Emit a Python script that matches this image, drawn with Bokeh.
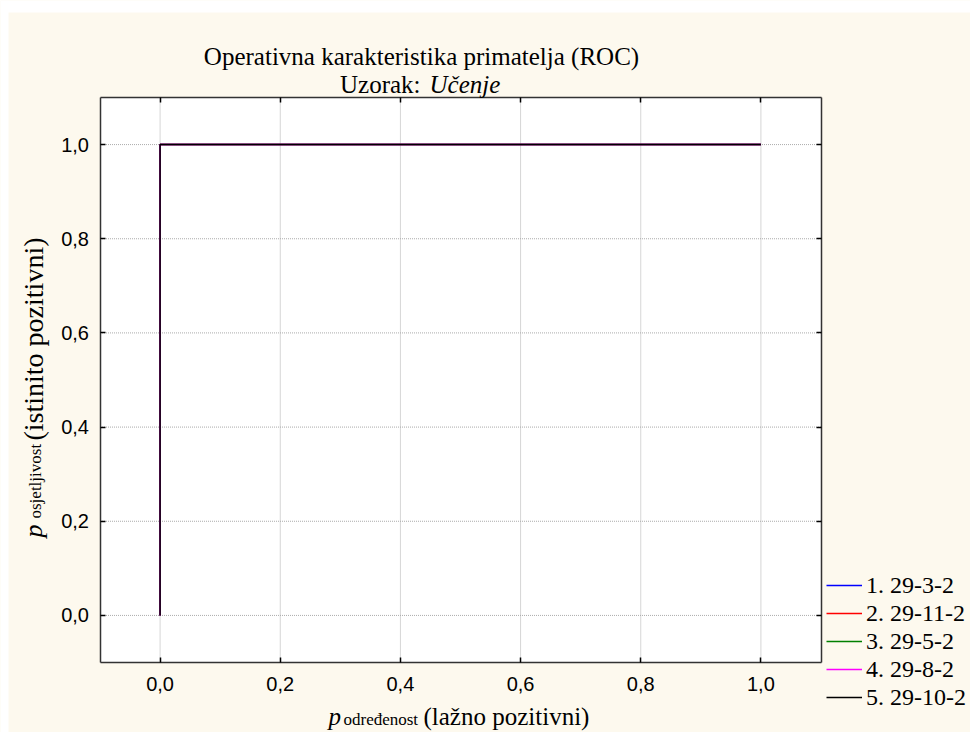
import math
from bokeh.plotting import figure
from bokeh.models import Label, Legend, LegendItem, LinearAxis, FixedTicker, Range1d
from bokeh.embed import file_html
from bokeh.resources import INLINE

# ---- data ----
series_names = ["1. 29-3-2", "2. 29-11-2", "3. 29-5-2", "4. 29-8-2", "5. 29-10-2"]
series_colors = ["#0000FF", "#FF0000", "#008000", "#FF00FF", "#000000"]

fpr_1 = [0.0, 0.0, 1.0]
tpr_1 = [0.0, 1.0, 1.0]
fpr_2 = [0.0, 0.0, 1.0]
tpr_2 = [0.0, 1.0, 1.0]
fpr_3 = [0.0, 0.0, 1.0]
tpr_3 = [0.0, 1.0, 1.0]
fpr_4 = [0.0, 0.0, 1.0]
tpr_4 = [0.0, 1.0, 1.0]
fpr_5 = [0.0, 0.0, 1.0]
tpr_5 = [0.0, 1.0, 1.0]

axis_min, axis_max = -0.1, 1.1
tick_values = [0.0, 0.2, 0.4, 0.6, 0.8, 1.0]
tick_labels = ["0,0", "0,2", "0,4", "0,6", "0,8", "1,0"]

title_line1 = "Operativna karakteristika primatelja (ROC)"
title_line2_a = "Uzorak:"
title_line2_b = "Učenje"
x_label_p, x_label_sub, x_label_rest = "p", "određenost", "(lažno pozitivni)"
y_label_p, y_label_sub, y_label_rest = "p", "osjetljivost", "(istinito pozitivni)"

# ---- layout (pixels) ----
CREAM = "#FDF9EE"
SERIF = "Liberation Serif"
SANS = "Liberation Sans"
W, H = 970, 732
BOX_L, BOX_R, BOX_T, BOX_B = 99.5, 820.5, 97.0, 662.0   # plot box inside the canvas

span = axis_max - axis_min
kx = (BOX_R - BOX_L) / span
ky = (BOX_B - BOX_T) / span
x_start = axis_min - BOX_L / kx
x_end = axis_max + (W - BOX_R) / kx
y_end = axis_max + BOX_T / ky
y_start = axis_min - (H - BOX_B) / ky

p = figure(width=W, height=H, output_backend="svg", toolbar_location=None,
           x_range=Range1d(x_start, x_end), y_range=Range1d(y_start, y_end),
           min_border=0, min_border_left=0, min_border_right=0,
           min_border_top=0, min_border_bottom=0)
p.title.visible = False
p.border_fill_color = CREAM
p.background_fill_color = CREAM
p.outline_line_color = None
p.xgrid.visible = False
p.ygrid.visible = False

# white margins of the reference picture (top and left)
p.quad(left=[x_start], right=[x_end], bottom=[y_end - 12 / ky], top=[y_end],
       fill_color="white", line_color=None)
p.quad(left=[x_start], right=[x_start + 8 / kx], bottom=[y_start], top=[y_end],
       fill_color="white", line_color=None)

# white plot box
p.quad(left=[axis_min], right=[axis_max], bottom=[axis_min], top=[axis_max],
       fill_color="white", line_color=None)

# dotted grid at the tick values, inside the box
n = len(tick_values)
p.segment(x0=tick_values, x1=tick_values, y0=[axis_min] * n, y1=[axis_max] * n,
          line_color="#ABABAB", line_dash="1 1", line_width=1)
p.segment(x0=[axis_min] * n, x1=[axis_max] * n, y0=tick_values, y1=tick_values,
          line_color="#ABABAB", line_dash="1 1", line_width=1)

ticker = FixedTicker(ticks=tick_values)
overrides = {v: s for v, s in zip(tick_values, tick_labels)}

def style_axis(ax, labels=True):
    ax.ticker = ticker
    ax.bounds = (axis_min, axis_max)
    ax.major_tick_in = 5
    ax.major_tick_out = 0
    ax.minor_tick_line_color = None
    ax.axis_line_color = "#333333"
    ax.axis_line_width = 1.5
    ax.major_tick_line_color = "black"
    ax.major_tick_line_width = 1.5
    if labels:
        ax.major_label_overrides = overrides
        ax.major_label_text_font = SANS
        ax.major_label_text_font_size = "20px"
        ax.major_label_text_color = "black"
    else:
        ax.major_label_text_color = None
        ax.major_label_text_font_size = "1px"

xb = p.xaxis[0]
yl = p.yaxis[0]
style_axis(xb)
style_axis(yl)
xb.fixed_location = axis_min
yl.fixed_location = axis_min
xb.major_label_standoff = 14
yl.major_label_standoff = 11

xt = LinearAxis(fixed_location=axis_max)
yr = LinearAxis(fixed_location=axis_max)
style_axis(xt, labels=False)
style_axis(yr, labels=False)
p.add_layout(xt, "above")
p.add_layout(yr, "right")

fprs = [fpr_1, fpr_2, fpr_3, fpr_4, fpr_5]
tprs = [tpr_1, tpr_2, tpr_3, tpr_4, tpr_5]
items = []
for name, color, xs, ys in zip(series_names, series_colors, fprs, tprs):
    r = p.line(xs, ys, line_color=color, line_width=1.5)
    items.append(LegendItem(label=name, renderers=[r]))

legend = Legend(items=items, location=(826, 21), orientation="vertical",
                label_text_font=SERIF, label_text_font_size="24px", label_text_color="black",
                glyph_width=36, glyph_height=28, label_height=28, spacing=0,
                label_standoff=4, padding=0, margin=0,
                border_line_color=None, background_fill_alpha=0)
p.add_layout(legend, "center")

# ---- texts (screen units: from canvas left, canvas bottom) ----
def lab(text, x, y, size, style="normal", align="left", angle=0, font=SERIF):
    p.add_layout(Label(x=x, y=y, x_units="screen", y_units="screen", text=text,
                       text_font=font, text_font_size=size, text_font_style=style,
                       text_align=align, text_baseline="alphabetic", angle=angle,
                       text_color="black"))

lab(title_line1, 421, 676, "25px", align="center")
lab(title_line2_a, 420, 648, "25px", align="right")
lab(title_line2_b, 429, 648, "25px", style="italic", align="left")

lab(x_label_p, 328, 16, "25px", style="italic")
lab(x_label_sub, 343, 13, "17px")
lab(x_label_rest, 423, 16, "25px")

lab(y_label_p, 33, 195, "26px", style="italic", angle=math.pi / 2)
lab(y_label_sub, 35, 214, "17px", angle=math.pi / 2)
lab(y_label_rest, 33, 292, "28px", angle=math.pi / 2)

open("out.html", "w").write(file_html(p, INLINE))
